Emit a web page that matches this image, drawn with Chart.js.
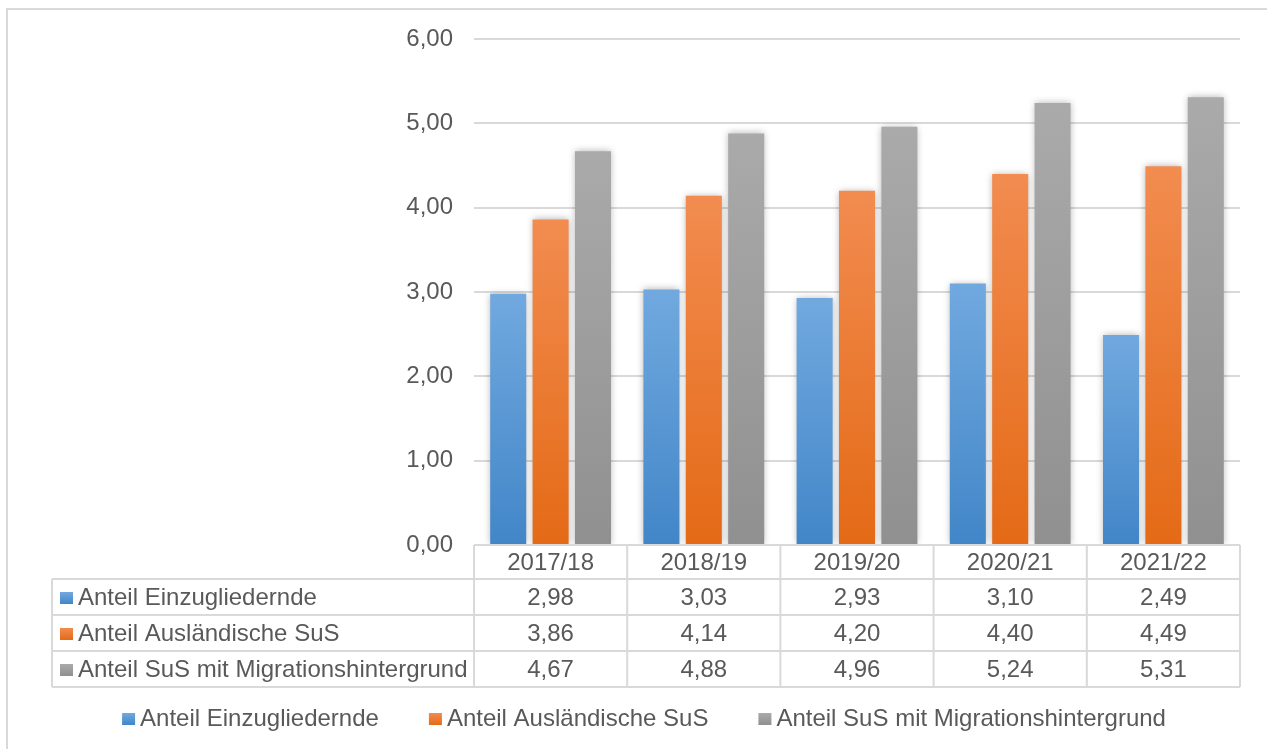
<!DOCTYPE html>
<html><head><meta charset="utf-8">
<script src="https://cdn.jsdelivr.net/npm/chart.js@4/dist/chart.umd.min.js"></script>
<style>html,body{margin:0;padding:0;background:#fff;overflow:hidden}#wrap{position:relative;width:1267px;height:749px}</style>
</head><body><div id="wrap"><canvas id="c" width="1267" height="749"></canvas></div>
<script>
const categories = ['2017/18', '2018/19', '2019/20', '2020/21', '2021/22'];
const seriesNames = ['Anteil Einzugliedernde', 'Anteil Ausländische SuS', 'Anteil SuS mit Migrationshintergrund'];
const einzugliedernde = [2.98, 3.03, 2.93, 3.10, 2.49];
const auslaendische = [3.86, 4.14, 4.20, 4.40, 4.49];
const migration = [4.67, 4.88, 4.96, 5.24, 5.31];
const yTicks = [0, 1, 2, 3, 4, 5, 6];

const topColors = ['#71a9df', '#f28c50', '#aaaaaa'];
const bottomColors = ['#4286c8', '#e46a16', '#909090'];

const FONT_FAMILY = "'Liberation Sans', Arial, sans-serif";
const FONT_SIZE = 24;
const TEXT = '#595959';
const LINE = '#d9d9d9';
const fmt = v => v.toFixed(2).replace('.', ',');

function grad(ctx, i, y0, y1) {
  const g = ctx.createLinearGradient(0, y0, 0, y1);
  g.addColorStop(0, topColors[i]);
  g.addColorStop(1, bottomColors[i]);
  return g;
}

function barColor(i) {
  return (context) => {
    const chart = context.chart;
    const ys = chart.scales && chart.scales.y;
    if (!chart.chartArea || !ys || context.type !== 'data' || context.raw == null) return bottomColors[i];
    const yTop = ys.getPixelForValue(context.raw);
    const yBot = ys.getPixelForValue(0);
    if (!isFinite(yTop) || !isFinite(yBot) || yTop === yBot) return bottomColors[i];
    return grad(chart.ctx, i, yTop, yBot);
  };
}

const seriesValues = [einzugliedernde, auslaendische, migration];

const tablePlugin = {
  id: 'excelTable',
  beforeDraw(chart) {
    const c = chart.ctx;
    c.save();
    c.strokeStyle = LINE; c.lineWidth = 2;
    c.beginPath(); c.moveTo(7, 749); c.lineTo(7, 9); c.lineTo(1267, 9); c.stroke();
    c.restore();
  },
  beforeDatasetsDraw(chart) {
    const c = chart.ctx;
    c.save();
    c.shadowColor = 'rgba(0,0,0,0.30)';
    c.shadowBlur = 7;
    c.shadowOffsetX = 0; c.shadowOffsetY = 0;
  },
  afterDatasetsDraw(chart) { chart.ctx.restore(); },
  afterDraw(chart) {
    const c = chart.ctx;
    const area = chart.chartArea;
    const n = categories.length;
    const cw = (area.right - area.left) / n;
    const labelLeft = 52;
    const top = area.bottom;
    const headerH = 34, rowH = 36;
    const rowTops = [top + headerH, top + headerH + rowH, top + headerH + 2 * rowH, top + headerH + 3 * rowH];
    const bottom = rowTops[3];
    c.save();
    c.strokeStyle = LINE; c.lineWidth = 2;
    c.beginPath();
    c.moveTo(area.left, top); c.lineTo(area.right, top);
    rowTops.forEach(y => { c.moveTo(labelLeft, y); c.lineTo(area.right, y); });
    c.moveTo(labelLeft, rowTops[0]); c.lineTo(labelLeft, bottom);
    for (let i = 0; i <= n; i++) {
      const x = area.left + i * cw;
      c.moveTo(x, top); c.lineTo(x, bottom);
    }
    c.stroke();

    c.font = FONT_SIZE + 'px ' + FONT_FAMILY;
    c.fillStyle = TEXT;
    c.textBaseline = 'middle';
    c.textAlign = 'center';
    categories.forEach((cat, i) => {
      const x = chart.scales.x.getPixelForValue(i);
      c.fillText(cat, x, top + headerH / 2 + 1);
    });
    seriesValues.forEach((vals, r) => {
      const yc = rowTops[r] + rowH / 2 + 1;
      c.textAlign = 'center';
      c.fillStyle = TEXT;
      vals.forEach((v, i) => {
        c.fillText(fmt(v), chart.scales.x.getPixelForValue(i), yc);
      });
      c.fillStyle = grad(c, r, yc - 6, yc + 6);
      c.fillRect(60, yc - 6, 13, 12);
      c.fillStyle = TEXT;
      c.textAlign = 'left';
      c.fillText(seriesNames[r], 78, yc);
    });

    // bottom legend
    const gap = 5, box = 13, spacing = 50;
    const widths = seriesNames.map(s => box + gap + c.measureText(s).width);
    const total = widths.reduce((a, b) => a + b, 0) + spacing * (widths.length - 1);
    let x = 644 - total / 2;
    const ly = 719;
    seriesNames.forEach((s, r) => {
      c.fillStyle = grad(c, r, ly - 6, ly + 6);
      c.fillRect(x, ly - 6, box, 12);
      c.fillStyle = TEXT;
      c.textAlign = 'left';
      c.fillText(s, x + box + gap, ly);
      x += widths[r] + spacing;
    });
    c.restore();
  }
};

new Chart(document.getElementById('c'), {
  type: 'bar',
  data: {
    labels: categories,
    datasets: seriesValues.map((vals, i) => ({
      label: seriesNames[i],
      data: vals,
      backgroundColor: barColor(i),
      borderWidth: 0,
      categoryPercentage: 0.83,
      barPercentage: 0.85
    }))
  },
  options: {
    responsive: false,
    animation: false,
    devicePixelRatio: 1,
    layout: { padding: { top: 39, right: 27, bottom: 204, left: 0 } },
    plugins: { legend: { display: false }, tooltip: { enabled: false } },
    scales: {
      x: { display: false },
      y: {
        min: 0, max: 6,
        afterFit(scale) { scale.width = 474; },
        afterBuildTicks(scale) { scale.ticks = yTicks.map(v => ({ value: v })); },
        ticks: {
          padding: 21,
          color: TEXT,
          font: { family: FONT_FAMILY, size: FONT_SIZE },
          callback: v => fmt(v)
        },
        grid: { color: LINE, lineWidth: 2, drawTicks: false },
        border: { display: false }
      }
    }
  },
  plugins: [tablePlugin]
});
</script>
</body></html>
